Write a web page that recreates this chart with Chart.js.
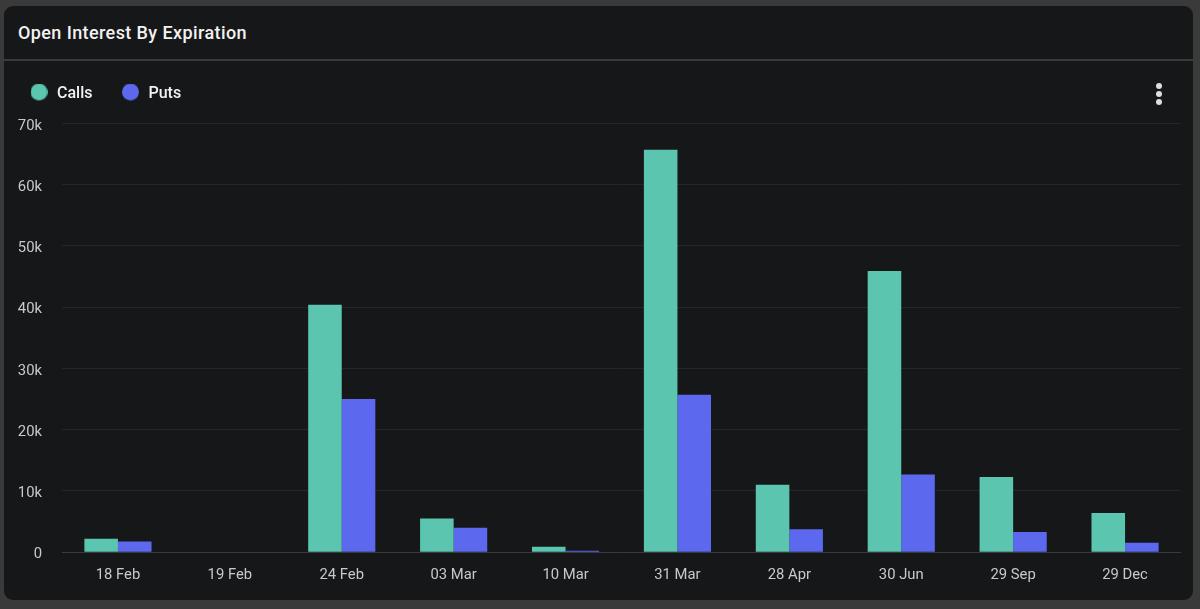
<!DOCTYPE html>
<html>
<head>
<meta charset="utf-8">
<script src="https://cdn.jsdelivr.net/npm/chart.js@4"></script>
<style>
  html, body { margin: 0; padding: 0; width: 1200px; height: 609px; overflow: hidden; background: #3a3a3b; }
  .card { position: absolute; left: 4px; top: 6px; width: 1189px; height: 594px; background: #161719; border-radius: 9px; }
  .title { position: absolute; left: 14px; top: 16px; color: #f2f2f2; font: 500 18px Roboto, sans-serif; letter-spacing: 0.4px; }
  .divider { position: absolute; left: 0; right: 0; top: 53px; height: 2px; background: #3a3b3c; }
  .menu { position: absolute; left: 1152px; top: 77px; }
  .menu span { display: block; width: 6px; height: 6px; margin-bottom: 2px; border-radius: 50%; background: #dedede; }
  canvas { position: absolute; left: 0; top: 0; }
</style>
</head>
<body>
<div class="card">
  <div class="title">Open Interest By Expiration</div>
  <div class="divider"></div>
  <div class="menu"><span></span><span></span><span></span></div>
</div>
<div style="position:absolute;left:0;top:0;width:1200px;height:609px"><canvas id="oiChart"></canvas></div>
<script>
const categories = ["18 Feb", "19 Feb", "24 Feb", "03 Mar", "10 Mar", "31 Mar", "28 Apr", "30 Jun", "29 Sep", "29 Dec"];
const calls = [2200, 0, 40400, 5500, 900, 65700, 11000, 45900, 12300, 6400];
const puts = [1750, 0, 25000, 4000, 250, 25700, 3750, 12700, 3300, 1550];
const yTickLabels = ["0", "10k", "20k", "30k", "40k", "50k", "60k", "70k"];

// legend marker as an image so the gap to the text can be wider than the dot,
// the taller canvas lifts the dot level with the text
function legendDot(color) {
  const dot = document.createElement("canvas");
  dot.width = 17;
  dot.height = 21;
  const ctx = dot.getContext("2d");
  ctx.fillStyle = color;
  ctx.arc(8.5, 8.5, 8.5, 0, Math.PI * 2);
  ctx.fill();
  return dot;
}

// extra room between the legend and the plot
const legendGap = {
  id: "legendGap",
  beforeLayout(chart) {
    const legend = chart.legend;
    if (legend.gapAdded) {
      return;
    }
    const fit = legend.fit;
    legend.fit = function () {
      fit.call(this);
      this.height += 11.5;
    };
    legend.gapAdded = true;
  }
};

new Chart(document.querySelector("#oiChart"), {
  type: "bar",
  plugins: [legendGap],
  data: {
    labels: categories,
    datasets: [
      { label: "Calls", data: calls, backgroundColor: "#5bc5b0", hoverBackgroundColor: "#5bc5b0", pointStyle: legendDot("#5bc5b0") },
      { label: "Puts", data: puts, backgroundColor: "#5c69ee", hoverBackgroundColor: "#5c69ee", pointStyle: legendDot("#5c69ee") }
    ]
  },
  options: {
    responsive: true,
    maintainAspectRatio: false,
    animation: false,
    layout: { padding: { top: 58, left: 1, right: 19, bottom: 10 } },
    datasets: { bar: { categoryPercentage: 0.6, barPercentage: 1 } },
    scales: {
      x: {
        grid: { display: false, drawTicks: false },
        border: { display: false },
        ticks: { color: "#c9c9c9", font: { family: "Roboto", size: 14.8 }, padding: 14.5, maxRotation: 0 }
      },
      y: {
        min: 0,
        max: 70000,
        afterFit: (scale) => { scale.width = 61; },
        grid: {
          drawTicks: false,
          color: (ctx) => (ctx.tick && ctx.tick.value === 0 ? "#3a3b3d" : "#252629")
        },
        border: { display: false },
        ticks: {
          stepSize: 10000,
          padding: 20,
          labelOffset: 2.5,
          color: "#c9c9c9",
          font: { family: "Roboto", size: 14.8 },
          callback: (value) => yTickLabels[value / 10000]
        }
      }
    },
    plugins: {
      tooltip: { enabled: false },
      legend: {
        position: "top",
        align: "start",
        labels: {
          usePointStyle: true,
          boxHeight: 16,
          pointStyleWidth: 20,
          padding: 28,
          color: "#f2f2f2",
          font: { family: "Roboto", size: 16, weight: "500" }
        }
      }
    }
  }
});
</script>
</body>
</html>
